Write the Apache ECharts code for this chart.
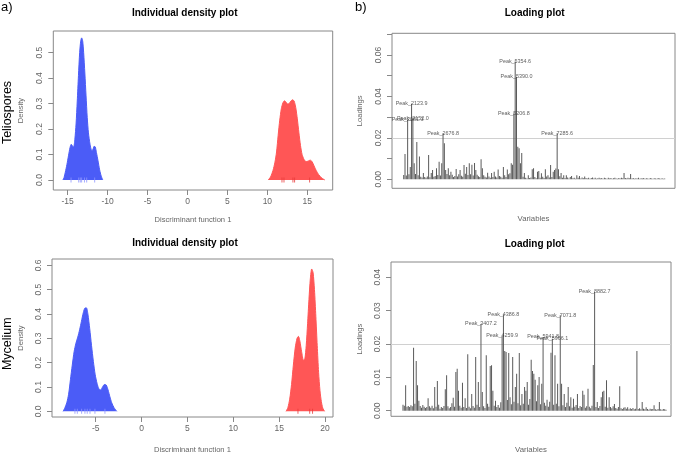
<!DOCTYPE html>
<html><head><meta charset="utf-8">
<script src="https://cdn.jsdelivr.net/npm/echarts@6.0.0/dist/echarts.min.js"></script>
<style>html,body{margin:0;padding:0;background:#fff}#c{width:676px;height:454px}</style>
</head><body><div id="c"></div>
<script>
// ---------- Density curves (Discriminant function 1) ----------
const telioBlueX = [-15.6,-15.45,-15.3,-15.1,-14.9,-14.7,-14.55,-14.4,-14.25,-14.1,-13.95,-13.8,-13.65,-13.5,-13.37,-13.25,-13.12,-13.0,-12.85,-12.7,-12.55,-12.4,-12.2,-12.0,-11.85,-11.7,-11.55,-11.4,-11.2,-11.0,-10.8,-10.6];
const telioBlueY = [0,0.01,0.03,0.06,0.095,0.128,0.14,0.133,0.13,0.16,0.22,0.31,0.41,0.5,0.545,0.558,0.545,0.5,0.42,0.33,0.245,0.185,0.14,0.117,0.118,0.132,0.13,0.108,0.075,0.04,0.015,0];
const telioRedX = [10.1,10.4,10.7,10.95,11.15,11.35,11.55,11.75,11.95,12.15,12.35,12.55,12.75,12.95,13.15,13.35,13.55,13.75,13.95,14.15,14.35,14.6,14.85,15.1,15.35,15.6,15.85,16.1,16.4,16.8,17.2];
const telioRedY = [0,0.012,0.037,0.07,0.11,0.175,0.235,0.28,0.303,0.311,0.305,0.298,0.301,0.31,0.315,0.31,0.285,0.24,0.185,0.135,0.1,0.08,0.072,0.074,0.078,0.072,0.055,0.038,0.022,0.008,0];
const mycBlueX = [-8.55,-8.35,-8.15,-7.95,-7.75,-7.55,-7.35,-7.15,-6.95,-6.75,-6.55,-6.35,-6.15,-6.0,-5.85,-5.65,-5.45,-5.25,-5.05,-4.85,-4.65,-4.45,-4.25,-4.05,-3.85,-3.65,-3.45,-3.25,-3.0,-2.7];
const mycBlueY = [0,0.015,0.035,0.07,0.13,0.19,0.245,0.28,0.305,0.335,0.37,0.405,0.425,0.425,0.4,0.34,0.27,0.205,0.15,0.115,0.092,0.088,0.1,0.11,0.108,0.088,0.06,0.035,0.015,0];
const mycRedX = [15.75,15.95,16.15,16.35,16.55,16.75,16.95,17.1,17.25,17.45,17.65,17.8,17.95,18.1,18.25,18.4,18.55,18.7,18.85,19.0,19.15,19.3,19.45,19.6,19.75,19.95];
const mycRedY = [0,0.015,0.05,0.11,0.19,0.26,0.3,0.308,0.29,0.245,0.21,0.215,0.27,0.36,0.46,0.545,0.585,0.57,0.5,0.39,0.27,0.16,0.085,0.04,0.014,0];
// individual positions (rug marks)
const telioBlueInd = [-14.58,-13.62,-13.42,-13.25,-12.9,-12.62,-11.62];
const telioRedInd = [11.83,12.08,13.2,13.41,15.29];
const mycBlueInd = [-7.26,-7.0,-6.53,-6.17,-5.92,-5.62,-5.08,-3.99];
const mycRedInd = [17.05,18.33,18.64];
// tick values
const telioXTicks = [-15,-10,-5,0,5,10,15];
const telioYTicks = [0,0.1,0.2,0.3,0.4,0.5];
const mycXTicks = [-5,0,5,10,15,20];
const mycYTicks = [0,0.1,0.2,0.3,0.4,0.5,0.6];
const telioLoadTicks = [0,0.01,0.02,0.03,0.04,0.05,0.06,0.07];
const telioLoadLabels = [0,0.02,0.04,0.06];
const mycLoadTicks = [0,0.01,0.02,0.03,0.04];
const mycLoadLabels = [0,0.01,0.02,0.03,0.04];
const loadThreshold = 0.02;

// ---------- Loadings (one value per variable) ----------
const telioLoadings = [
0.0021,0.0122,0.0018,0.0288,0.0024,0.006,0.0365,0.0294,0.0077,0.0026,
0.018,0.0019,0.011,0.0012,0.0009,0.003,0.0011,0.0008,0.0014,0.0117,
0.0010,0.003,0.0045,0.0012,0.0016,0.0053,0.0021,0.0085,0.0018,0.0077,
0.0222,0.0174,0.0045,0.0026,0.0053,0.0019,0.0037,0.0022,0.0011,0.0016,
0.005,0.0013,0.0024,0.0045,0.0017,0.0012,0.0069,0.0027,0.006,0.0021,
0.0077,0.0025,0.007,0.0018,0.0079,0.0045,0.0022,0.0015,0.0011,0.0097,
0.0053,0.0019,0.0012,0.0009,0.0032,0.0014,0.0008,0.003,0.0011,0.0037,
0.0013,0.0009,0.0047,0.0016,0.0012,0.0008,0.006,0.0019,0.0011,0.0047,
0.0024,0.0029,0.0077,0.007,0.0319,0.0568,0.0495,0.0157,0.015,0.0077,
0.0127,0.0012,0.003,0.0007,0.0004,0.002,0.0006,0.0009,0.0048,0.0053,
0.0011,0.0005,0.0037,0.004,0.0008,0.0029,0.0012,0.0006,0.0048,0.0014,
0.002,0.0009,0.0069,0.0011,0.0037,0.0045,0.0052,0.0222,0.0048,0.0015,
0.003,0.0008,0.002,0.0006,0.002,0.0009,0.0004,0.0011,0.0016,0.0005,
0.0008,0.0003,0.002,0.0007,0.0016,0.0004,0.0009,0.0005,0.0013,0.0006,
0.0004,0.0008,0.0003,0.0006,0.0009,0.0004,0.0007,0.0003,0.0005,0.0008,
0.0004,0.0006,0.0003,0.0008,0.0005,0.0003,0.0007,0.0004,0.0006,0.0003,
0.0005,0.0007,0.0004,0.0003,0.0006,0.0004,0.0008,0.0005,0.003,0.0006,
0.0004,0.0007,0.0005,0.0026,0.0004,0.0006,0.0003,0.0005,0.0004,0.0007,
0.0003,0.0005,0.0004,0.0006,0.0003,0.0005,0.0004,0.0003,0.0006,0.0004,
0.0003,0.0005,0.0004,0.0003,0.0006,0.0004,0.0003,0.0005,0.0003,0.0004];
const telioPeakIdx = [3,6,7,30,84,85,86,117];
const telioPeakNames = ['Peak_2081.3','Peak_2123.9','Peak_2152.0','Peak_2676.8','Peak_5206.8','Peak_5354.6','Peak_5390.0','Peak_7285.6'];

const mycLoadings = [
0.0018,0.0015,0.0076,0.0012,0.0014,0.0011,0.0016,0.0013,0.0189,0.0021,
0.0149,0.0076,0.003,0.0014,0.0009,0.0017,0.0012,0.0008,0.0011,0.0037,
0.0013,0.0009,0.0015,0.0007,0.0071,0.0012,0.0089,0.0018,0.0006,0.0011,
0.0008,0.0014,0.0064,0.0106,0.0013,0.0007,0.0011,0.0022,0.0039,0.0012,
0.0116,0.0126,0.006,0.0015,0.0009,0.0084,0.0011,0.0037,0.0008,0.0169,
0.0012,0.0007,0.005,0.0014,0.0009,0.0161,0.0018,0.0086,0.0011,0.026,
0.0056,0.0013,0.0008,0.0166,0.0021,0.0012,0.0134,0.0136,0.006,0.0015,
0.003,0.0011,0.0017,0.0009,0.0025,0.0224,0.0288,0.0179,0.0176,0.0032,
0.0173,0.004,0.0019,0.0161,0.0027,0.0071,0.0111,0.0022,0.0173,0.0016,
0.005,0.0021,0.0071,0.006,0.0086,0.0018,0.0035,0.0153,0.0119,0.0111,
0.0093,0.0028,0.0076,0.0101,0.0019,0.0081,0.0221,0.0024,0.0015,0.0033,
0.0012,0.0027,0.0174,0.0216,0.0018,0.0166,0.0021,0.0081,0.0013,0.0286,
0.0081,0.0016,0.005,0.0011,0.0024,0.0071,0.0013,0.004,0.0009,0.0036,
0.0012,0.0017,0.005,0.0008,0.0014,0.0011,0.006,0.0048,0.0009,0.0013,
0.0066,0.0012,0.0007,0.0015,0.0137,0.0356,0.0011,0.0026,0.0008,0.0014,
0.004,0.0057,0.006,0.0012,0.0091,0.0009,0.004,0.0011,0.0007,0.0013,
0.002,0.0008,0.0006,0.0011,0.0073,0.0007,0.0005,0.0009,0.001,0.0006,
0.001,0.0004,0.0007,0.0005,0.0008,0.0004,0.0006,0.0179,0.0005,0.0007,
0.0004,0.0026,0.0006,0.0004,0.001,0.0005,0.0003,0.0006,0.0004,0.0005,
0.0016,0.0004,0.0003,0.0005,0.0026,0.0004,0.0003,0.0005,0.0004,0.0003];
const mycPeakIdx = [59,75,76,106,113,119,145];
const mycPeakNames = ['Peak_3407.2','Peak_4259.9','Peak_4386.8','Peak_5941.8','Peak_5966.1','Peak_7071.8','Peak_8882.7'];

// ---------- styling ----------
const FONT = 'Liberation Sans, Arial, sans-serif';
const BOX = '#888';
const TXT = '#666';
const BLUE = '#4b5cf7';
const RED = '#ff5656';

const zip = (xs, ys) => xs.map((x, i) => [x, ys[i]]);

function valueAxis(grid, min, max, ticks, labels, fmt, name, nameGap) {
  return {
    type: 'value', gridIndex: grid, min: min, max: max,
    axisLine: { show: false, onZero: false }, splitLine: { show: false },
    axisTick: { show: true, length: 5, customValues: ticks, lineStyle: { color: BOX } },
    axisLabel: { customValues: labels, formatter: fmt, fontSize: 8.5, color: TXT, fontFamily: FONT, margin: 7 },
    name: name, nameLocation: 'middle', nameGap: nameGap,
    nameTextStyle: { fontSize: 7.6, color: TXT, fontFamily: FONT }
  };
}
function hiddenX(grid, min, max, name, nameGap) {
  return {
    type: 'value', gridIndex: grid, min: min, max: max,
    axisLine: { show: false, onZero: false }, splitLine: { show: false }, axisTick: { show: false }, axisLabel: { show: false },
    name: name, nameLocation: 'middle', nameGap: nameGap,
    nameTextStyle: { fontSize: 7.8, color: TXT, fontFamily: FONT }
  };
}
const f1 = v => v.toFixed(1);
const f2 = v => v.toFixed(2);

function densSeries(ax, xs, ys, color) {
  return { type: 'line', xAxisIndex: ax, yAxisIndex: ax, data: zip(xs, ys), smooth: 0.25,
    symbol: 'none', lineStyle: { color: color, width: 1 }, itemStyle: { color: color },
    areaStyle: { color: color, opacity: 1 }, silent: true, z: 2 };
}
function rugSeries(ax, xs, color) {
  return { type: 'scatter', xAxisIndex: ax, yAxisIndex: ax, data: xs.map(x => [x, 0]),
    symbol: 'rect', symbolSize: [1, 5], itemStyle: { color: color }, silent: true, z: 3 };
}
function loadSeries(ax, vals) {
  return { type: 'bar', xAxisIndex: ax, yAxisIndex: ax, data: vals.map((v, i) => [i, v]),
    barWidth: 1, itemStyle: { color: '#5a5a5a' }, silent: true, z: 2,
    markLine: { silent: true, symbol: 'none', label: { show: false },
      lineStyle: { color: '#d0d0d0', type: 'solid', width: 1 }, data: [{ yAxis: loadThreshold }], z: 1 } };
}
function peakSeries(ax, vals, idx, names) {
  return { type: 'scatter', xAxisIndex: ax, yAxisIndex: ax, symbolSize: 0, silent: true, z: 5,
    data: idx.map((k, j) => [k, vals[k], names[j]]),
    label: { show: true, position: 'inside', formatter: p => p.data[2], fontSize: 5.4, color: '#333', fontFamily: FONT } };
}

const gridBase = { show: true, borderColor: BOX, borderWidth: 1, backgroundColor: 'transparent', containLabel: false, outerBoundsMode: 'none' };

const option = {
  animation: false,
  backgroundColor: '#fff',
  grid: [
    Object.assign({ left: 53.3, top: 31, width: 279.4, height: 159 }, gridBase),
    Object.assign({ left: 392, top: 33.3, width: 283, height: 155 }, gridBase),
    Object.assign({ left: 52, top: 259, width: 281, height: 158 }, gridBase),
    Object.assign({ left: 391, top: 262, width: 280, height: 154.3 }, gridBase)
  ],
  xAxis: [
    valueAxis(0, -16.8, 18.18, telioXTicks, telioXTicks, v => String(v), 'Discriminant function 1', 26),
    hiddenX(1, -8.92, 206.85, 'Variables', 27),
    valueAxis(2, -9.76, 20.87, mycXTicks, mycXTicks, v => String(v), 'Discriminant function 1', 29),
    hiddenX(3, -9.08, 202.8, 'Variables', 30)
  ],
  yAxis: [
    valueAxis(0, -0.0393, 0.585, telioYTicks, telioYTicks, f1, 'Density', 28),
    valueAxis(1, -0.00434, 0.07047, telioLoadTicks, telioLoadLabels, f2, 'Loadings', 28),
    valueAxis(2, -0.0234, 0.626, mycYTicks, mycYTicks, f1, 'Density', 27),
    valueAxis(3, -0.00168, 0.04459, mycLoadTicks, mycLoadLabels, f2, 'Loadings', 27)
  ],
  series: [
    densSeries(0, telioBlueX, telioBlueY, BLUE),
    densSeries(0, telioRedX, telioRedY, RED),
    rugSeries(0, telioBlueInd, '#8d95ff'),
    rugSeries(0, telioRedInd, '#e83a3a'),
    densSeries(2, mycBlueX, mycBlueY, BLUE),
    densSeries(2, mycRedX, mycRedY, RED),
    rugSeries(2, mycBlueInd, '#8d95ff'),
    rugSeries(2, mycRedInd, '#e83a3a'),
    loadSeries(1, telioLoadings),
    peakSeries(1, telioLoadings, telioPeakIdx, telioPeakNames),
    loadSeries(3, mycLoadings),
    peakSeries(3, mycLoadings, mycPeakIdx, mycPeakNames)
  ],
  graphic: [
    { type: 'text', x: 1, y: 7.5, style: { text: 'a)', fontSize: 13, fontFamily: FONT, fill: '#000', align: 'left', verticalAlign: 'middle' } },
    { type: 'text', x: 355, y: 7.5, style: { text: 'b)', fontSize: 13, fontFamily: FONT, fill: '#000', align: 'left', verticalAlign: 'middle' } },
    { type: 'text', x: 7.5, y: 112.5, rotation: Math.PI / 2, style: { text: 'Teliospores', fontSize: 12.5, fontFamily: FONT, fill: '#000', align: 'center', verticalAlign: 'middle' } },
    { type: 'text', x: 7.5, y: 343.7, rotation: Math.PI / 2, style: { text: 'Mycelium', fontSize: 12.5, fontFamily: FONT, fill: '#000', align: 'center', verticalAlign: 'middle' } },
    { type: 'text', x: 184.7, y: 13, style: { text: 'Individual density plot', fontSize: 10, fontWeight: 'bold', fontFamily: FONT, fill: '#000', align: 'center', verticalAlign: 'middle' } },
    { type: 'text', x: 185, y: 243.7, style: { text: 'Individual density plot', fontSize: 10, fontWeight: 'bold', fontFamily: FONT, fill: '#000', align: 'center', verticalAlign: 'middle' } },
    { type: 'text', x: 534.7, y: 13.3, style: { text: 'Loading plot', fontSize: 10, fontWeight: 'bold', fontFamily: FONT, fill: '#000', align: 'center', verticalAlign: 'middle' } },
    { type: 'text', x: 534.7, y: 244.3, style: { text: 'Loading plot', fontSize: 10, fontWeight: 'bold', fontFamily: FONT, fill: '#000', align: 'center', verticalAlign: 'middle' } }
  ]
};
// rotate y tick labels like R (parallel to axis)
option.yAxis.forEach(a => { a.axisLabel.rotate = 90; a.axisLabel.margin = 9; });

const chart = echarts.init(document.getElementById('c'), null, { renderer: 'canvas', width: 676, height: 454 });
chart.setOption(option);
</script>
</body></html>
